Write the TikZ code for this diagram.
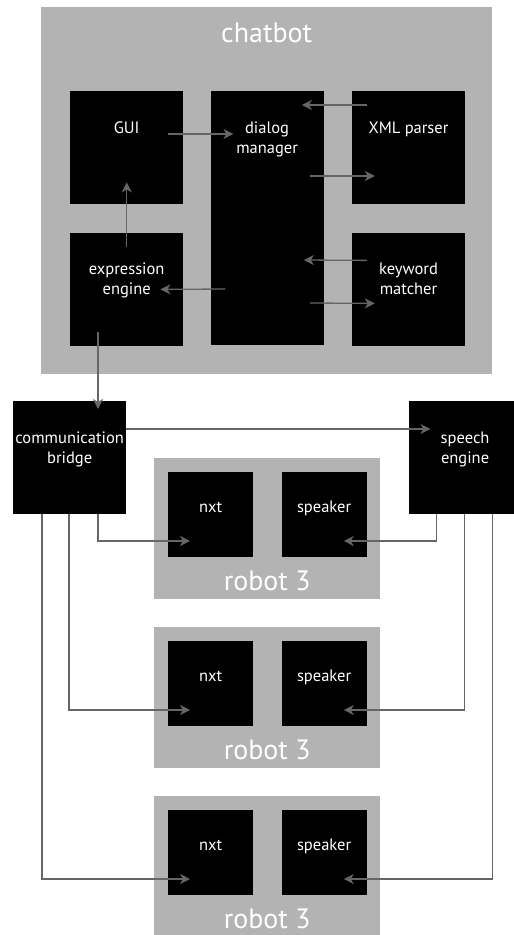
\documentclass[tikz,border=0pt]{standalone}
\usepackage{fontspec}
\setmainfont{PT Sans}
\usetikzlibrary{positioning, calc, arrows.meta}
\definecolor{groupgray}{HTML}{B3B3B3}
\definecolor{linegray}{HTML}{666666}
\tikzstyle{group} = [rectangle, fill=groupgray, inner sep=0pt]
\tikzstyle{block} = [rectangle, fill=black, inner sep=0pt, minimum size=113pt]
\tikzstyle{smallblock} = [rectangle, fill=black, inner sep=0pt, minimum size=85pt]
\tikzstyle{boxtext} = [text=white, align=center, anchor=base, inner sep=0pt, yshift=-42pt, font=\fontsize{16.5}{20}\selectfont]
\tikzstyle{twolines} = [boxtext, yshift=-20pt]
\tikzstyle{grouptitle} = [text=white, anchor=base, inner sep=0pt, font=\fontsize{28}{32}\selectfont]
\tikzstyle{arrow} = [draw=linegray, line width=1.3pt, -{Stealth[length=10pt,width=10pt,inset=3pt]}]

\begin{document}
\begin{tikzpicture}[x=1pt, y=-1pt]
\useasboundingbox (0,0) rectangle (514,935);
% chatbot
\node (chatbot) [group, minimum width=451pt, minimum height=367pt, anchor=north west, label={[grouptitle, yshift=-35pt]north:chatbot}] at (41,7) {};
\node (gui) [block, below right=84pt and 29pt of chatbot.north west, label={[boxtext]north:GUI}] {};
\node (dialog) [block, minimum height=254pt, right=27pt of gui.north east, anchor=north west, label={[twolines]north:dialog\\manager}] {};
\node (xml) [block, right=28pt of dialog.north east, anchor=north west, label={[boxtext]north:XML parser}] {};
\node (expression) [block, below=28pt of gui, label={[twolines]north:expression\\engine}] {};
\node (keyword) [block, below=28pt of xml, label={[twolines]north:keyword\\matcher}] {};
% bridge and speech
\node (comm) [block, anchor=north west, label={[twolines]north:communication\\bridge}] at (13,401) {};
\node (speech) [block, right=282pt of comm, label={[twolines]north:speech\\engine}] {};
% robots
\foreach \i in {1,2,3} {
  \node (robot\i) [group, minimum width=226pt, minimum height=141pt, anchor=north west, label={[grouptitle, yshift=9pt]south:robot 3}] at (154,{458+169*(\i-1)}) {};
  \node (nxt\i) [smallblock, below right=14pt and 14pt of robot\i.north west, label={[boxtext, yshift=2pt]north:nxt}] {};
  \node (speaker\i) [smallblock, right=28pt of nxt\i, label={[boxtext, yshift=2pt]north:speaker}] {};
}
% chatbot arrows
\draw [arrow] ($(xml.north west)+(15,14)$) -- ($(dialog.north east)+(-22,14)$);
\draw [arrow] ($(gui.north east)+(-15,43)$) -- ($(dialog.north west)+(23,43)$);
\draw [arrow] ($(dialog.north east)+(-14,85)$) -- ($(xml.north west)+(23,85)$);
\draw [arrow] ($(expression.north)+(0,15)$) -- ($(gui.south)+(0,-22)$);
\draw [arrow] ($(keyword.north west)+(15,28)$) -- ($(dialog.north east)+(-20,169)$);
\draw [arrow] ($(dialog.north west)+(15,198)$) -- ($(expression.north east)+(-23,57)$);
\draw [arrow] ($(dialog.north east)+(-14,212)$) -- ($(keyword.north west)+(23,71)$);
\draw [arrow] ($(expression.south west)+(28,-14)$) -- ($(comm.north west)+(85,8)$);
\draw [arrow] ($(comm.north east)+(0,28)$) -- ($(speech.north west)+(22,28)$);
% to the robots
\foreach \i/\dl/\dr in {1/85/28, 2/56/56, 3/29/84} {
  \draw [arrow] ($(comm.south west)+(\dl,0)$) |- ($(nxt\i.north west)+(22,69)$);
  \draw [arrow] ($(speech.south west)+(\dr,0)$) |- ($(speaker\i.north east)+(-23,69)$);
}
\end{tikzpicture}
\end{document}
